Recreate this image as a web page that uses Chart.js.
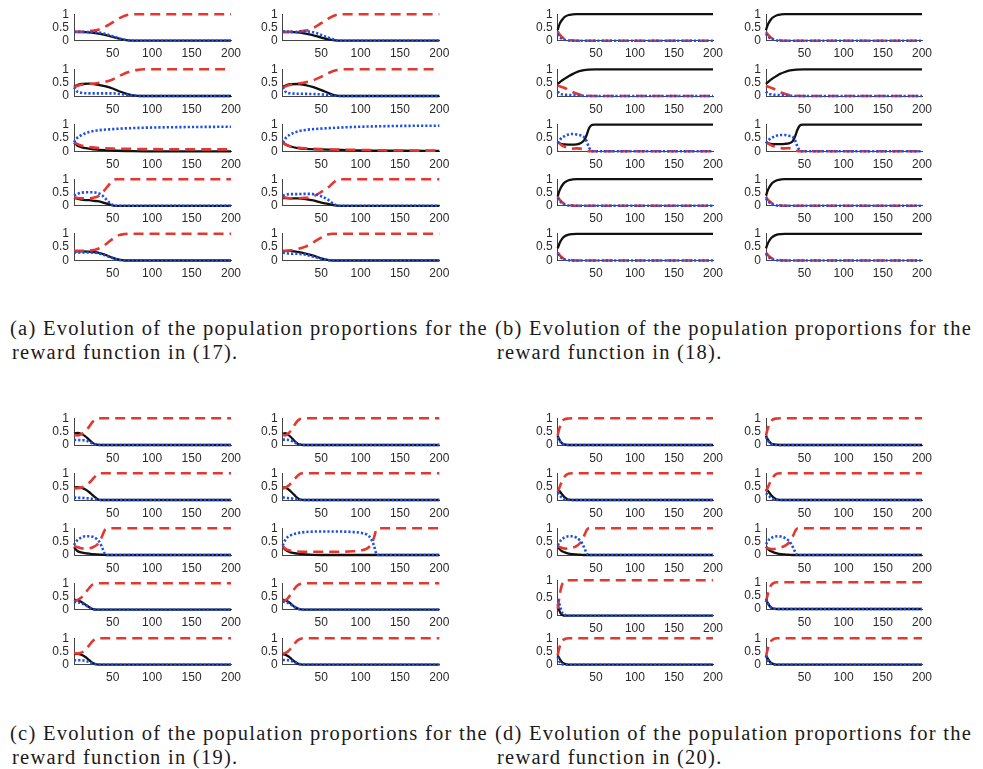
<!DOCTYPE html>
<html><head><meta charset="utf-8">
<script src="https://cdn.jsdelivr.net/npm/chart.js@4.4.0/dist/chart.umd.min.js"></script>
<style>
html,body{margin:0;padding:0;background:#fff;}
body{width:983px;height:769px;position:relative;overflow:hidden;}
canvas{position:absolute;}
.cap{position:absolute;font-family:"Liberation Serif","DejaVu Serif",serif;font-size:20.5px;color:#1a1a1a;white-space:nowrap;line-height:24px;}
</style></head><body>
<script>
// ---------- tick labels ----------
const xTicks = [50, 100, 150, 200];
const yTicks = [0, 0.5, 1];

// ---------- captions ----------
const captionA = ["(a) Evolution of the population proportions for the", "reward function in (17)."];
const captionB = ["(b) Evolution of the population proportions for the", "reward function in (18)."];
const captionC = ["(c) Evolution of the population proportions for the", "reward function in (19)."];
const captionD = ["(d) Evolution of the population proportions for the", "reward function in (20)."];

// ---------- data: [t, proportion]; order 1L,1R,2L,2R,...,5L,5R ----------
const aBlack = [
 [[1,.33],[15,.32],[30,.28],[40,.22],[50,.14],[60,.06],[70,.01],[80,0],[200,0]],
 [[1,.33],[15,.32],[30,.27],[40,.2],[50,.12],[60,.05],[68,.01],[75,0],[200,0]],
 [[1,.35],[10,.45],[20,.46],[30,.43],[40,.37],[50,.28],[60,.16],[70,.06],[78,.01],[85,0],[200,0]],
 [[1,.35],[10,.44],[20,.45],[30,.41],[40,.33],[50,.22],[60,.1],[68,.02],[75,0],[200,0]],
 [[1,.33],[5,.22],[10,.16],[20,.1],[30,.06],[50,.03],[75,.01],[100,0],[200,0]],
 [[1,.33],[5,.25],[10,.19],[20,.12],[30,.09],[50,.07],[75,.05],[100,.03],[150,.02],[200,.015]],
 [[1,.3],[10,.23],[20,.21],[28,.18],[35,.15],[40,.1],[45,.06],[50,.02],[55,0],[200,0]],
 [[1,.29],[10,.28],[20,.28],[30,.25],[40,.2],[50,.12],[60,.06],[65,.03],[70,.01],[75,0],[200,0]],
 [[1,.34],[10,.34],[20,.33],[30,.3],[40,.22],[50,.1],[58,.03],[65,0],[200,0]],
 [[1,.35],[10,.36],[20,.32],[30,.26],[40,.18],[50,.08],[58,.02],[65,0],[200,0]]
];
const aRed = [
 [[1,.33],[15,.35],[30,.4],[40,.52],[50,.69],[60,.87],[70,.98],[80,1],[200,1]],
 [[1,.32],[15,.35],[30,.38],[40,.48],[50,.66],[60,.85],[70,.98],[75,1],[200,1]],
 [[1,.33],[10,.42],[20,.45],[30,.48],[40,.53],[50,.62],[60,.77],[70,.9],[80,.97],[90,1],[200,1]],
 [[1,.32],[10,.41],[20,.46],[30,.51],[40,.59],[50,.72],[60,.87],[70,.97],[78,1],[200,1]],
 [[1,.33],[5,.28],[10,.22],[20,.16],[30,.13],[50,.1],[75,.09],[100,.08],[150,.075],[200,.07]],
 [[1,.34],[5,.25],[10,.19],[20,.14],[30,.11],[50,.08],[75,.06],[100,.05],[150,.03],[200,.025]],
 [[1,.32],[10,.28],[20,.28],[28,.32],[35,.42],[40,.6],[45,.78],[50,.95],[55,1],[200,1]],
 [[1,.33],[10,.28],[20,.28],[30,.3],[40,.36],[50,.52],[60,.72],[65,.86],[70,.97],[75,1],[200,1]],
 [[1,.36],[10,.36],[20,.37],[30,.42],[40,.58],[50,.81],[58,.95],[65,.99],[75,1],[200,1]],
 [[1,.36],[10,.38],[20,.43],[30,.52],[40,.68],[50,.86],[58,.97],[65,1],[200,1]]
];
const aBlue = [
 [[1,.34],[15,.33],[30,.32],[40,.26],[50,.17],[60,.07],[70,.01],[80,0],[200,0]],
 [[1,.35],[15,.33],[30,.35],[40,.32],[50,.22],[60,.1],[70,.01],[75,0],[200,0]],
 [[1,.33],[5,.17],[10,.12],[20,.1],[40,.1],[50,.1],[60,.07],[70,.04],[80,.01],[90,0],[200,0]],
 [[1,.33],[5,.15],[10,.1],[30,.08],[50,.06],[60,.03],[68,.01],[75,0],[200,0]],
 [[1,.34],[5,.5],[10,.6],[20,.72],[30,.78],[50,.83],[75,.87],[100,.89],[150,.91],[200,.92]],
 [[1,.33],[5,.5],[10,.62],[20,.74],[30,.8],[50,.85],[75,.89],[100,.92],[150,.95],[200,.96]],
 [[1,.38],[5,.44],[10,.49],[20,.51],[28,.5],[35,.43],[40,.3],[45,.14],[50,.03],[55,0],[200,0]],
 [[1,.38],[5,.42],[10,.44],[20,.44],[30,.45],[40,.44],[50,.36],[60,.2],[65,.08],[70,.01],[75,0],[200,0]],
 [[1,.3],[10,.3],[20,.3],[30,.28],[40,.2],[50,.09],[58,.02],[65,0],[200,0]],
 [[1,.29],[10,.26],[20,.25],[30,.22],[40,.14],[50,.06],[58,.01],[65,0],[200,0]]
];

const bBlack = [
 [[1,.4],[3,.6],[5,.72],[8,.84],[10,.9],[15,.97],[20,.99],[25,1],[200,1]],
 [[1,.4],[3,.58],[5,.7],[8,.83],[10,.88],[15,.96],[20,.99],[25,1],[200,1]],
 [[1,.45],[5,.55],[10,.65],[15,.74],[20,.82],[25,.89],[30,.94],[40,.99],[50,1],[200,1]],
 [[1,.45],[5,.56],[10,.67],[15,.76],[20,.84],[25,.9],[30,.95],[40,.99],[50,1],[200,1]],
 [[1,.35],[5,.28],[10,.26],[20,.25],[25,.26],[30,.3],[35,.42],[38,.6],[41,.85],[44,.97],[48,1],[200,1]],
 [[1,.35],[5,.29],[10,.27],[20,.27],[25,.28],[30,.3],[35,.38],[38,.55],[41,.8],[44,.96],[48,1],[200,1]],
 [[1,.35],[3,.55],[5,.68],[8,.82],[10,.88],[15,.96],[20,.99],[25,1],[200,1]],
 [[1,.38],[3,.56],[5,.69],[8,.82],[10,.88],[15,.96],[20,.99],[25,1],[200,1]],
 [[1,.45],[3,.62],[5,.74],[8,.86],[10,.91],[15,.97],[20,.99],[25,1],[200,1]],
 [[1,.45],[3,.62],[5,.73],[8,.85],[10,.9],[15,.97],[20,.99],[25,1],[200,1]]
];
const bRed = [
 [[1,.35],[3,.25],[5,.18],[8,.1],[10,.06],[15,.02],[20,.01],[25,0],[200,0]],
 [[1,.33],[3,.25],[5,.18],[8,.1],[10,.07],[15,.03],[20,.01],[25,0],[200,0]],
 [[1,.38],[5,.35],[10,.3],[15,.22],[20,.15],[25,.09],[30,.05],[40,.01],[50,0],[200,0]],
 [[1,.38],[5,.34],[10,.28],[15,.2],[20,.13],[25,.08],[30,.04],[40,.01],[50,0],[200,0]],
 [[1,.35],[5,.25],[10,.17],[15,.13],[20,.1],[25,.11],[30,.1],[35,.06],[38,.02],[41,0],[200,0]],
 [[1,.35],[5,.27],[10,.2],[15,.15],[20,.12],[25,.11],[30,.12],[35,.08],[38,.03],[41,.01],[44,0],[200,0]],
 [[1,.35],[3,.25],[5,.18],[8,.1],[10,.07],[15,.03],[20,.01],[25,0],[200,0]],
 [[1,.34],[3,.25],[5,.18],[8,.11],[10,.07],[15,.03],[20,.01],[25,0],[200,0]],
 [[1,.3],[3,.22],[5,.15],[8,.08],[10,.05],[15,.02],[20,.01],[25,0],[200,0]],
 [[1,.3],[3,.22],[5,.16],[8,.09],[10,.06],[15,.02],[20,.01],[25,0],[200,0]]
];
const bBlue = [
 [[1,.25],[3,.15],[5,.1],[8,.06],[10,.04],[15,.01],[20,0],[200,0]],
 [[1,.27],[3,.17],[5,.12],[8,.07],[10,.05],[15,.01],[20,0],[200,0]],
 [[1,.17],[3,.1],[5,.07],[10,.05],[15,.04],[20,.03],[30,.01],[40,0],[200,0]],
 [[1,.17],[3,.1],[5,.08],[10,.05],[15,.04],[20,.03],[30,.01],[40,0],[200,0]],
 [[1,.3],[5,.47],[10,.57],[15,.63],[20,.65],[25,.63],[30,.6],[35,.52],[38,.38],[41,.15],[44,.03],[48,0],[200,0]],
 [[1,.3],[5,.44],[10,.53],[15,.59],[20,.61],[25,.61],[30,.58],[35,.54],[38,.42],[41,.19],[44,.04],[48,0],[200,0]],
 [[1,.3],[3,.2],[5,.14],[8,.08],[10,.05],[15,.01],[20,0],[200,0]],
 [[1,.28],[3,.19],[5,.13],[8,.07],[10,.05],[15,.01],[20,0],[200,0]],
 [[1,.25],[3,.16],[5,.11],[8,.06],[10,.04],[15,.01],[20,0],[200,0]],
 [[1,.25],[3,.16],[5,.11],[8,.06],[10,.04],[15,.01],[20,0],[200,0]]
];

const cBlack = [
 [[1,.43],[5,.45],[10,.42],[15,.33],[20,.2],[25,.07],[30,.01],[35,0],[200,0]],
 [[1,.42],[4,.44],[8,.38],[12,.28],[16,.15],[20,.05],[24,.01],[28,0],[200,0]],
 [[1,.47],[5,.48],[10,.46],[15,.4],[20,.3],[25,.17],[30,.05],[35,0],[200,0]],
 [[1,.47],[4,.46],[8,.4],[12,.3],[16,.18],[20,.07],[24,.01],[28,0],[200,0]],
 [[1,.3],[5,.16],[10,.1],[15,.07],[20,.05],[25,.03],[30,.02],[37,.01],[43,0],[200,0]],
 [[1,.31],[5,.18],[10,.11],[20,.05],[30,.02],[50,0],[200,0]],
 [[1,.38],[5,.36],[10,.3],[15,.2],[20,.1],[25,.02],[30,0],[200,0]],
 [[1,.37],[4,.36],[8,.3],[12,.21],[16,.11],[20,.04],[24,.01],[28,0],[200,0]],
 [[1,.4],[5,.41],[10,.38],[15,.3],[20,.18],[25,.06],[30,.01],[35,0],[200,0]],
 [[1,.4],[4,.38],[8,.32],[12,.22],[16,.12],[20,.04],[24,.01],[28,0],[200,0]]
];
const cRed = [
 [[1,.38],[5,.36],[10,.4],[15,.5],[20,.68],[25,.88],[30,.98],[35,1],[200,1]],
 [[1,.38],[4,.36],[8,.43],[12,.56],[16,.75],[20,.91],[24,.98],[28,1],[200,1]],
 [[1,.43],[5,.44],[10,.46],[15,.53],[20,.64],[25,.79],[30,.94],[35,1],[200,1]],
 [[1,.43],[4,.46],[8,.53],[12,.64],[16,.78],[20,.91],[24,.99],[28,1],[200,1]],
 [[1,.33],[5,.3],[10,.25],[15,.23],[20,.25],[25,.29],[30,.38],[34,.53],[37,.73],[40,.93],[43,.99],[46,1],[200,1]],
 [[1,.33],[5,.22],[10,.17],[20,.13],[30,.12],[50,.12],[70,.12],[90,.14],[100,.17],[108,.24],[113,.38],[117,.65],[120,.95],[123,1],[200,1]],
 [[1,.32],[5,.36],[10,.45],[15,.62],[20,.81],[25,.96],[30,1],[200,1]],
 [[1,.33],[4,.35],[8,.45],[12,.61],[16,.79],[20,.92],[24,.98],[28,1],[200,1]],
 [[1,.43],[5,.42],[10,.45],[15,.55],[20,.72],[25,.9],[30,.98],[35,1],[200,1]],
 [[1,.42],[4,.44],[8,.51],[12,.64],[16,.79],[20,.92],[24,.98],[28,1],[200,1]]
];
const cBlue = [
 [[1,.19],[5,.19],[10,.18],[15,.17],[20,.12],[25,.05],[30,.01],[35,0],[200,0]],
 [[1,.2],[4,.2],[8,.19],[12,.16],[16,.1],[20,.04],[24,.01],[28,0],[200,0]],
 [[1,.1],[5,.08],[10,.08],[15,.07],[20,.06],[25,.04],[30,.01],[35,0],[200,0]],
 [[1,.1],[4,.08],[8,.07],[12,.06],[16,.04],[20,.02],[24,0],[200,0]],
 [[1,.37],[5,.55],[10,.65],[15,.7],[20,.7],[25,.68],[30,.6],[34,.45],[37,.25],[40,.05],[43,0],[200,0]],
 [[1,.36],[5,.6],[10,.72],[20,.82],[30,.86],[50,.88],[70,.88],[90,.86],[100,.83],[108,.76],[113,.62],[117,.35],[120,.05],[123,0],[200,0]],
 [[1,.3],[5,.28],[10,.25],[15,.18],[20,.09],[25,.02],[30,0],[200,0]],
 [[1,.3],[4,.29],[8,.25],[12,.18],[16,.1],[20,.04],[24,.01],[28,0],[200,0]],
 [[1,.17],[5,.17],[10,.17],[15,.15],[20,.1],[25,.04],[30,.01],[35,0],[200,0]],
 [[1,.18],[4,.18],[8,.17],[12,.14],[16,.09],[20,.04],[24,.01],[28,0],[200,0]]
];

const dBlack = [
 [[1,.35],[2,.27],[4,.16],[6,.08],[8,.04],[10,.02],[15,0],[200,0]],
 [[1,.35],[2,.28],[4,.18],[6,.1],[8,.05],[10,.03],[15,.01],[20,0],[200,0]],
 [[1,.42],[3,.35],[5,.27],[8,.16],[10,.1],[13,.04],[16,.01],[20,0],[200,0]],
 [[1,.42],[3,.36],[5,.28],[8,.17],[10,.11],[13,.05],[16,.01],[20,0],[200,0]],
 [[1,.31],[5,.17],[10,.1],[15,.05],[20,.03],[25,.02],[30,.01],[36,0],[200,0]],
 [[1,.32],[5,.18],[10,.11],[15,.06],[20,.03],[25,.02],[30,.01],[36,0],[200,0]],
 [[1,.33],[2,.22],[3,.15],[5,.06],[7,.02],[10,0],[200,0]],
 [[1,.38],[2,.3],[3,.24],[5,.14],[7,.07],[10,.02],[15,0],[200,0]],
 [[1,.35],[2,.3],[3,.25],[5,.15],[7,.08],[10,.03],[15,0],[200,0]],
 [[1,.36],[2,.3],[3,.25],[5,.15],[7,.08],[10,.03],[15,0],[200,0]]
];
const dRed = [
 [[1,.35],[2,.5],[4,.7],[6,.85],[8,.93],[10,.97],[15,.99],[20,1],[200,1]],
 [[1,.35],[2,.48],[4,.68],[6,.82],[8,.91],[10,.96],[15,.99],[20,1],[200,1]],
 [[1,.3],[3,.45],[5,.6],[8,.78],[10,.88],[13,.96],[16,.99],[20,1],[200,1]],
 [[1,.32],[3,.45],[5,.58],[8,.76],[10,.86],[13,.95],[16,.99],[20,1],[200,1]],
 [[1,.33],[5,.28],[10,.24],[15,.25],[20,.27],[25,.33],[30,.46],[33,.59],[36,.8],[39,.97],[42,1],[200,1]],
 [[1,.28],[5,.24],[10,.22],[15,.24],[20,.28],[25,.34],[30,.45],[33,.57],[36,.75],[39,.94],[42,1],[200,1]],
 [[1,.2],[2,.35],[3,.5],[5,.75],[7,.9],[10,.97],[15,1],[200,1]],
 [[1,.25],[2,.4],[3,.52],[5,.72],[7,.87],[10,.96],[15,1],[200,1]],
 [[1,.35],[2,.5],[3,.62],[5,.8],[7,.9],[10,.97],[15,1],[200,1]],
 [[1,.3],[2,.45],[3,.57],[5,.76],[7,.88],[10,.96],[15,1],[200,1]]
];
const dBlue = [
 [[1,.3],[2,.23],[4,.14],[6,.07],[8,.03],[10,.01],[15,0],[200,0]],
 [[1,.3],[2,.24],[4,.14],[6,.08],[8,.04],[10,.01],[15,0],[200,0]],
 [[1,.28],[3,.2],[5,.13],[8,.06],[10,.02],[13,0],[200,0]],
 [[1,.26],[3,.19],[5,.14],[8,.07],[10,.03],[13,0],[200,0]],
 [[1,.36],[5,.55],[10,.66],[15,.7],[20,.7],[25,.65],[30,.53],[33,.4],[36,.2],[39,.03],[42,0],[200,0]],
 [[1,.4],[5,.58],[10,.67],[15,.7],[20,.69],[25,.64],[30,.54],[33,.42],[36,.25],[39,.06],[42,0],[200,0]],
 [[1,.45],[2,.43],[3,.35],[5,.19],[7,.08],[10,.03],[15,0],[200,0]],
 [[1,.37],[2,.3],[3,.24],[5,.14],[7,.06],[10,.02],[15,0],[200,0]],
 [[1,.3],[2,.2],[3,.13],[5,.05],[7,.02],[10,0],[200,0]],
 [[1,.34],[2,.25],[3,.18],[5,.09],[7,.04],[10,.01],[15,0],[200,0]]
];

// ---------- layout (positions only) ----------
const COLS = [{ax:74,w:157},{ax:282.7,w:156.6},{ax:557.7,w:155.3},{ax:766,w:156}];
const ZERO_TOP = [40.7,96,151.3,205.8,260.5];
const ZERO_BOT = [445,500,555,609.7,664.7];
const PH = 26.7;
const BLACK = '#111111', RED = '#e2382f', BLUE = '#1d4fe6';

function makePlot(ax, w, zeroY, h, blk, red, blu) {
  const L = Math.floor(ax) - 50, yW = ax - L;
  const T = Math.floor(zeroY - h) - 12, padTop = zeroY - h - T;
  const cw = Math.ceil(yW + w + 24), padRight = cw - yW - w;
  const ch = Math.ceil(zeroY - T + 22), xH = ch - (zeroY - T);
  const cv = document.createElement('canvas');
  cv.width = cw; cv.height = ch;
  cv.style.left = L + 'px'; cv.style.top = T + 'px';
  cv.style.width = cw + 'px'; cv.style.height = ch + 'px';
  document.body.appendChild(cv);
  const font = {family:'"Liberation Sans", Arial, sans-serif', size:12};
  new Chart(cv, {
    type: 'line',
    data: { datasets: [
      {data: blu, borderColor: BLUE, borderWidth: 2.6, borderDash: [2.2, 2], borderCapStyle:'butt'},
      {data: red, borderColor: RED, borderWidth: 2.6, borderDash: [10, 6], borderCapStyle:'butt'},
      {data: blk, borderColor: BLACK, borderWidth: 2.3}
    ].map(d => Object.assign(d, {pointRadius:0, cubicInterpolationMode:'monotone', fill:false, clip:false})) },
    options: {
      responsive: false, animation: false, devicePixelRatio: 1,
      layout: {padding: {left: 0, top: padTop, right: padRight, bottom: 0}},
      plugins: {legend: {display:false}, tooltip: {enabled:false}},
      scales: {
        x: {type:'linear', min:1, max:200,
            grid:{display:false, drawTicks:false},
            border:{display:true, color:'#444', width:1},
            ticks:{font, color:'#2a2a2a', padding:6, maxRotation:0, autoSkip:false},
            afterBuildTicks: s => { s.ticks = xTicks.map(v => ({value:v})); },
            afterFit: s => { s.height = xH; }},
        y: {type:'linear', min:0, max:1,
            grid:{display:false, drawTicks:false},
            border:{display:true, color:'#444', width:1},
            ticks:{font, color:'#2a2a2a', padding:5, autoSkip:false, callback: v => String(v)},
            afterBuildTicks: s => { s.ticks = yTicks.map(v => ({value:v})); },
            afterFit: s => { s.width = yW; }}
      }
    }
  });
}

const panels = [
  {blk:aBlack, red:aRed, blu:aBlue, c0:0, zeros:ZERO_TOP, cap:captionA, cx:10, cy:316, cw:478},
  {blk:bBlack, red:bRed, blu:bBlue, c0:2, zeros:ZERO_TOP, cap:captionB, cx:495, cy:316, cw:477},
  {blk:cBlack, red:cRed, blu:cBlue, c0:0, zeros:ZERO_BOT, cap:captionC, cx:10, cy:721, cw:478},
  {blk:dBlack, red:dRed, blu:dBlue, c0:2, zeros:ZERO_BOT, cap:captionD, cx:495, cy:721, cw:477}
];
panels.forEach((p, pi) => {
  for (let i = 0; i < 10; i++) {
    const r = Math.floor(i / 2), c = i % 2;
    const col = COLS[p.c0 + c];
    let zeroY = p.zeros[r], h = PH;
    if (pi === 3 && i === 6) { zeroY = 615.7; h = 35.7; }
    if (pi === 3 && i === 7) { zeroY = 609; }
    makePlot(col.ax, col.w, zeroY, h, p.blk[i], p.red[i], p.blu[i]);
  }
  const d1 = document.createElement('div'); d1.className = 'cap';
  d1.textContent = p.cap[0]; d1.style.left = p.cx + 'px'; d1.style.top = p.cy + 'px';
  const d2 = document.createElement('div'); d2.className = 'cap';
  d2.textContent = p.cap[1]; d2.style.left = (p.cx + 2) + 'px'; d2.style.top = (p.cy + 24) + 'px';
  document.body.appendChild(d1); document.body.appendChild(d2);
  const nat = d1.getBoundingClientRect().width;
  const ls = (p.cw - nat) / p.cap[0].length;
  d1.style.letterSpacing = ls + 'px'; d2.style.letterSpacing = ls + 'px';
});
</script>
</body></html>
